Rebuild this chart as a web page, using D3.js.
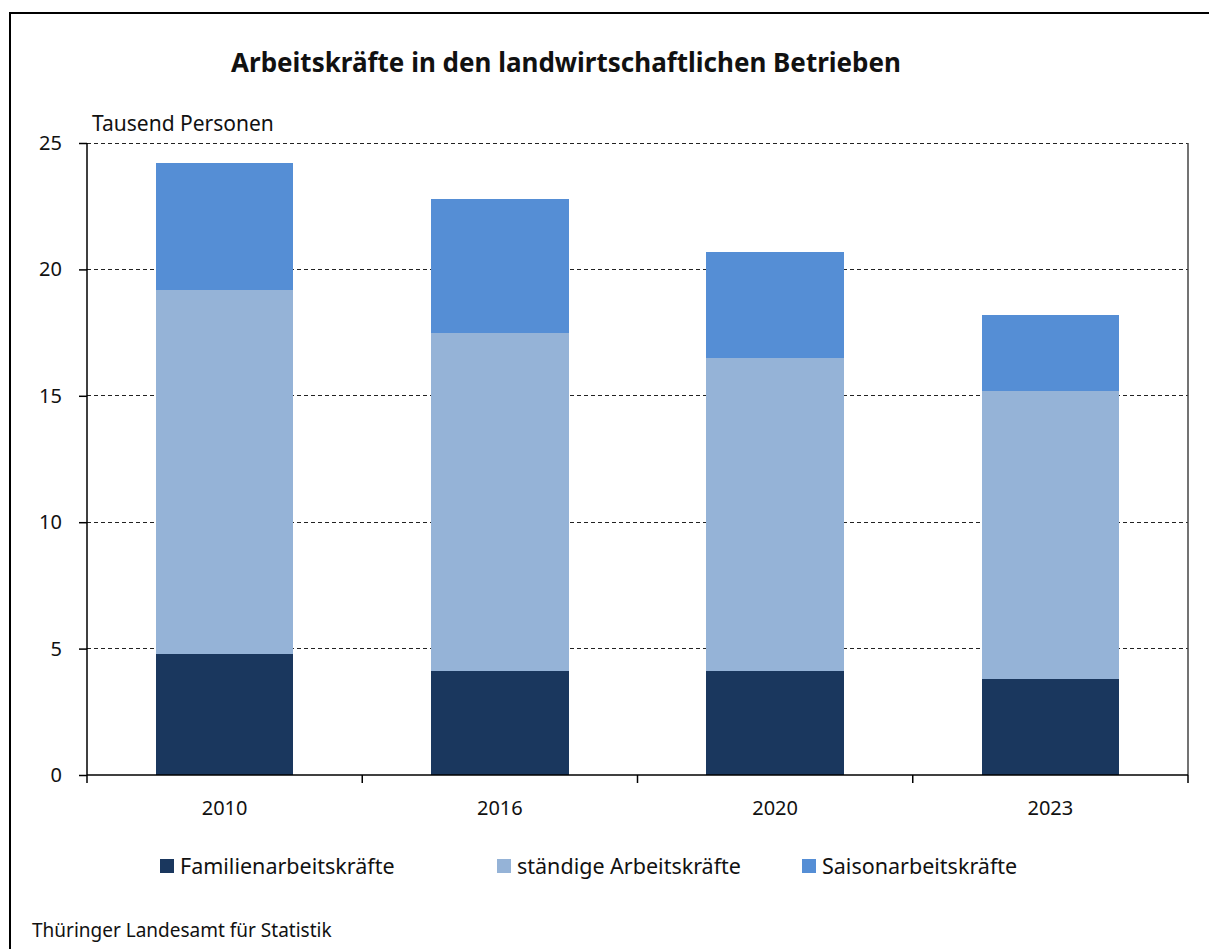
<!DOCTYPE html>
<html>
<head>
<meta charset="utf-8">
<script src="https://cdn.jsdelivr.net/npm/d3@7"></script>
<style>
  body { margin: 0; background: #fff; }
  text { font-family: "Noto Sans", sans-serif; fill: #111; }
</style>
</head>
<body>
<div id="chart"></div>
<script>
// data (Tausend Personen)
var years = ["2010", "2016", "2020", "2023"];
var familien = [4.8, 4.1, 4.1, 3.8];
var staendige = [14.4, 13.4, 12.4, 11.4];
var saison = [5.0, 5.3, 4.2, 3.0];
var seriesNames = ["Familienarbeitskräfte", "ständige Arbeitskräfte", "Saisonarbeitskräfte"];
var colors = ["#1a375e", "#95b3d7", "#558ed5"];
var yTicks = [0, 5, 10, 15, 20, 25];

var width = 1209, height = 949;
var m = {left: 87, right: 1188, top: 143, bottom: 775};

var svg = d3.select("#chart").append("svg")
	.attr("width", width)
	.attr("height", height);

// outer frame, runs off the right and bottom edge
svg.append("rect")
	.attr("x", 10).attr("y", 13)
	.attr("width", 1220).attr("height", 960)
	.attr("fill", "none")
	.attr("stroke", "#000")
	.attr("stroke-width", 2);

svg.append("text")
	.attr("x", 566).attr("y", 72)
	.attr("text-anchor", "middle")
	.style("font-weight", "bold")
	.style("font-size", "26px")
	.text("Arbeitskräfte in den landwirtschaftlichen Betrieben");

svg.append("text")
	.attr("x", 92).attr("y", 131)
	.style("font-size", "21px")
	.text("Tausend Personen");

var x = d3.scaleBand()
	.domain(years)
	.range([m.left, m.right])
	.paddingInner(0.5)
	.paddingOuter(0.25);

var y = d3.scaleLinear()
	.domain([0, 25])
	.range([m.bottom, m.top]);

// dashed gridlines
svg.append("g").selectAll("line")
	.data(yTicks.filter(function(d){ return d > 0; }))
	.enter().append("line")
	.attr("x1", m.left).attr("x2", m.right)
	.attr("y1", function(d){ return y(d); })
	.attr("y2", function(d){ return y(d); })
	.attr("stroke", "#222")
	.attr("stroke-width", 1)
	.attr("stroke-dasharray", "4,3")
	.attr("shape-rendering", "crispEdges");

// stacked bars
var rows = years.map(function(yr, i){
	return {year: yr, f: familien[i], s: staendige[i], a: saison[i]};
});
var stack = d3.stack().keys(["f", "s", "a"]);
var layers = stack(rows);

svg.append("g").selectAll("g")
	.data(layers)
	.enter().append("g")
	.attr("fill", function(d, i){ return colors[i]; })
	.selectAll("rect")
	.data(function(d){ return d; })
	.enter().append("rect")
	.attr("x", function(d){ return x(d.data.year); })
	.attr("width", x.bandwidth())
	.attr("y", function(d){ return y(d[1]); })
	.attr("height", function(d){ return y(d[0]) - y(d[1]); })
	.attr("shape-rendering", "crispEdges");

// y axis
var yAxis = d3.axisLeft(y).tickValues(yTicks).tickSize(8).tickPadding(17);
var gy = svg.append("g")
	.attr("transform", "translate(" + m.left + ",0)")
	.call(yAxis);
gy.select(".domain").remove();
gy.append("line")
	.attr("x1", 0).attr("x2", 0)
	.attr("y1", m.top).attr("y2", m.bottom)
	.attr("stroke", "#000").attr("stroke-width", 1.5);
gy.selectAll(".tick line").attr("stroke", "#000").attr("stroke-width", 1.5);
gy.selectAll(".tick text")
	.style("font-size", "20px")
	.style("font-family", "'Noto Sans', sans-serif")
	.attr("fill", "#111");

// right border of plot
svg.append("line")
	.attr("x1", m.right).attr("x2", m.right)
	.attr("y1", m.top).attr("y2", m.bottom)
	.attr("stroke", "#444").attr("stroke-width", 1.5);

// x axis: base line, ticks on category boundaries
svg.append("line")
	.attr("x1", m.left).attr("x2", m.right)
	.attr("y1", m.bottom).attr("y2", m.bottom)
	.attr("stroke", "#000").attr("stroke-width", 1.5);

var bounds = d3.range(years.length + 1).map(function(i){ return m.left + i * (m.right - m.left) / years.length; });
svg.append("g").selectAll("line")
	.data(bounds)
	.enter().append("line")
	.attr("x1", function(d){ return d; })
	.attr("x2", function(d){ return d; })
	.attr("y1", m.bottom).attr("y2", m.bottom + 8)
	.attr("stroke", "#000").attr("stroke-width", 1.5);

svg.append("g").selectAll("text")
	.data(years)
	.enter().append("text")
	.attr("x", function(d){ return x(d) + x.bandwidth() / 2; })
	.attr("y", 815)
	.attr("text-anchor", "middle")
	.style("font-size", "20px")
	.text(function(d){ return d; });

// legend
var legX = [160, 497, 802];
var leg = svg.append("g").selectAll("g")
	.data(seriesNames)
	.enter().append("g")
	.attr("transform", function(d, i){ return "translate(" + legX[i] + ",859)"; });
leg.append("rect")
	.attr("width", 14).attr("height", 14)
	.attr("fill", function(d, i){ return colors[i]; });
leg.append("text")
	.attr("x", 20).attr("y", 15)
	.style("font-size", "21.5px")
	.text(function(d){ return d; });

svg.append("text")
	.attr("x", 32).attr("y", 937)
	.style("font-size", "19px")
	.text("Thüringer Landesamt für Statistik");
</script>
</body>
</html>
